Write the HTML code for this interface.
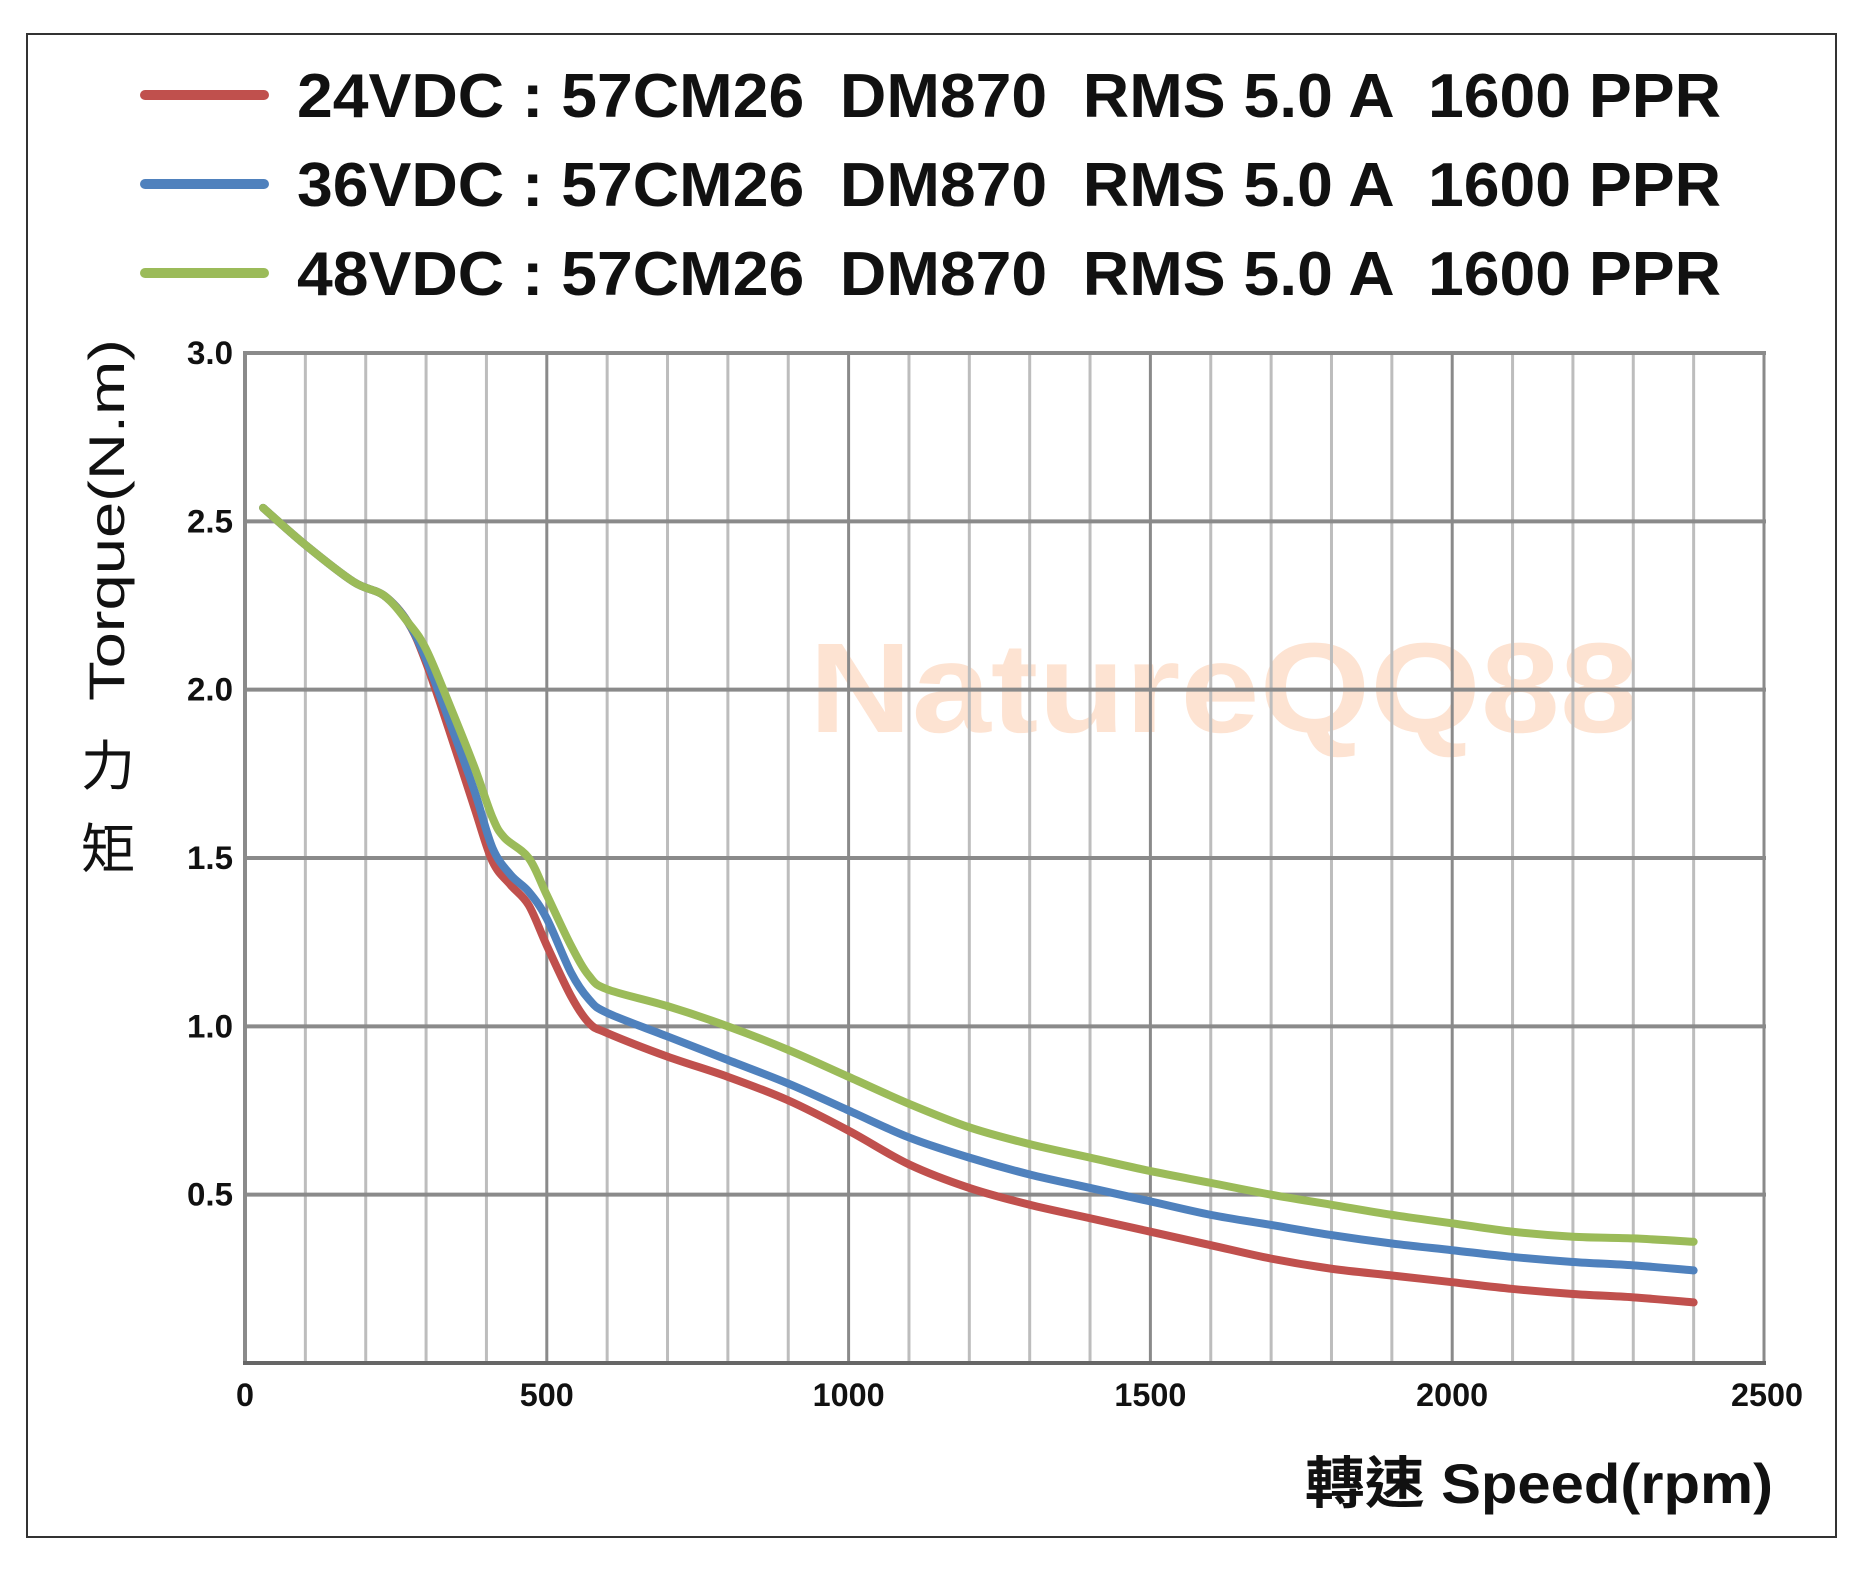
<!DOCTYPE html>
<html><head><meta charset="utf-8"><style>
html,body{margin:0;padding:0;background:#fff;}
svg{display:block;}
text{font-family:"Liberation Sans","Noto Sans CJK TC",sans-serif;}
</style></head><body>
<svg id="s" width="1860" height="1570" viewBox="0 0 1860 1570" xmlns="http://www.w3.org/2000/svg">
<rect x="27" y="34" width="1809" height="1503" fill="#fff" stroke="#333" stroke-width="2"/>
<text x="1224" y="732" font-size="128" font-weight="bold" fill="#fde3d2" text-anchor="middle" textLength="830" lengthAdjust="spacingAndGlyphs">NatureQQ88</text>
<g id="grid"></g>
<g id="curves" fill="none" stroke-width="8" stroke-linecap="round" stroke-linejoin="round"></g>
<g font-weight="bold" fill="#111">
<line x1="145" y1="95" x2="264" y2="95" stroke="#c0504d" stroke-width="10" stroke-linecap="round"/>
<line x1="145" y1="184" x2="264" y2="184" stroke="#4f81bd" stroke-width="10" stroke-linecap="round"/>
<line x1="145" y1="273" x2="264" y2="273" stroke="#9bbb59" stroke-width="10" stroke-linecap="round"/>
<text x="297" y="117" font-size="62" textLength="1424" lengthAdjust="spacingAndGlyphs" xml:space="preserve">24VDC : 57CM26  DM870  RMS 5.0 A  1600 PPR</text>
<text x="297" y="206" font-size="62" textLength="1424" lengthAdjust="spacingAndGlyphs" xml:space="preserve">36VDC : 57CM26  DM870  RMS 5.0 A  1600 PPR</text>
<text x="297" y="295" font-size="62" textLength="1424" lengthAdjust="spacingAndGlyphs" xml:space="preserve">48VDC : 57CM26  DM870  RMS 5.0 A  1600 PPR</text>
</g>
<g id="ticks" font-weight="bold" fill="#111" font-size="32"></g>
<text transform="translate(124,701) rotate(-90)" font-size="50" fill="#111" textLength="362" lengthAdjust="spacingAndGlyphs">Torque(N.m)</text>
<text x="108" y="785" font-size="54" fill="#111" text-anchor="middle">力</text>
<text x="108" y="868" font-size="54" fill="#111" text-anchor="middle">矩</text>
<text x="1305" y="1503" font-size="56" font-weight="bold" fill="#111" textLength="468" lengthAdjust="spacingAndGlyphs">轉速 Speed(rpm)</text>
</svg>
<script>
var NS="http://www.w3.org/2000/svg";
function X(r){return 245+r*0.6036;}
function Y(t){return 1363-t*336.67;}
var XR=1764;
function el(p,tag,a,txt){var e=document.createElementNS(NS,tag);for(var k in a)e.setAttribute(k,a[k]);if(txt!=null)e.textContent=txt;p.appendChild(e);return e;}
var g=document.getElementById('grid');
for(var r=100;r<=2400;r+=100){if(r%500)el(g,'line',{x1:X(r),y1:Y(3),x2:X(r),y2:Y(0),stroke:'#bdbdbd','stroke-width':3});}
for(var r=500;r<=2000;r+=500){el(g,'line',{x1:X(r),y1:Y(3),x2:X(r),y2:Y(0),stroke:'#8a8a8a','stroke-width':3});}
el(g,'line',{x1:XR,y1:Y(3),x2:XR,y2:Y(0),stroke:'#8a8a8a','stroke-width':3});
for(var t=0.5;t<=3.01;t+=0.5){el(g,'line',{x1:X(0)-2,y1:Y(t),x2:XR+2,y2:Y(t),stroke:'#8a8a8a','stroke-width':4});}
el(g,'line',{x1:X(0),y1:Y(3)-2,x2:X(0),y2:Y(0)+2,stroke:'#8a8a8a','stroke-width':4});
el(g,'line',{x1:X(0)-2,y1:Y(0),x2:XR+2,y2:Y(0),stroke:'#666','stroke-width':4});
var tk=document.getElementById('ticks');
['0.5','1.0','1.5','2.0','2.5','3.0'].forEach(function(s){el(tk,'text',{x:X(0)-12,y:Y(+s)+11,'text-anchor':'end',textLength:46,lengthAdjust:'spacingAndGlyphs'},s);});
[0,500,1000,1500,2000,2500].forEach(function(v){var s=String(v);var cx=v==2500?XR+3:X(v);el(tk,'text',{x:cx-s.length*9,y:1406,textLength:s.length*18,lengthAdjust:'spacingAndGlyphs'},s);});
var head=[[30,2.54],[100,2.43],[180,2.32],[230,2.28],[270,2.2]];
var red=head.concat([[300,2.08],[340,1.87],[380,1.65],[410,1.49],[440,1.42],[470,1.36],[500,1.24],[540,1.09],[570,1.01],[600,0.98],[700,0.91],[800,0.85],[900,0.78],[1000,0.69],[1100,0.59],[1200,0.52],[1300,0.47],[1400,0.43],[1500,0.39],[1600,0.35],[1700,0.31],[1800,0.28],[1900,0.26],[2000,0.24],[2100,0.22],[2200,0.205],[2300,0.195],[2400,0.18]]);
var blue=head.concat([[300,2.09],[340,1.9],[380,1.7],[410,1.53],[440,1.45],[470,1.40],[500,1.32],[540,1.16],[570,1.08],[600,1.04],[700,0.97],[800,0.90],[900,0.83],[1000,0.75],[1100,0.67],[1200,0.61],[1300,0.56],[1400,0.52],[1500,0.48],[1600,0.44],[1700,0.41],[1800,0.38],[1900,0.355],[2000,0.335],[2100,0.315],[2200,0.30],[2300,0.29],[2400,0.275]]);
var green=head.concat([[300,2.12],[340,1.95],[380,1.77],[410,1.62],[430,1.56],[470,1.5],[500,1.39],[540,1.24],[570,1.15],[600,1.11],[700,1.06],[800,1.0],[900,0.93],[1000,0.85],[1100,0.77],[1200,0.70],[1300,0.65],[1400,0.61],[1500,0.57],[1600,0.535],[1700,0.5],[1800,0.47],[1900,0.44],[2000,0.415],[2100,0.39],[2200,0.375],[2300,0.37],[2400,0.36]]);
function path(d){var p=d.map(function(q){return [X(q[0]),Y(q[1])];});var s='M'+p[0][0]+','+p[0][1];
for(var i=0;i<p.length-1;i++){var p0=p[i-1]||p[i],p1=p[i],p2=p[i+1],p3=p[i+2]||p2;
s+=' C'+(p1[0]+(p2[0]-p0[0])/6)+','+(p1[1]+(p2[1]-p0[1])/6)+' '+(p2[0]-(p3[0]-p1[0])/6)+','+(p2[1]-(p3[1]-p1[1])/6)+' '+p2[0]+','+p2[1];}return s;}
var c=document.getElementById('curves');
el(c,'path',{d:path(red),stroke:'#c0504d'});
el(c,'path',{d:path(blue),stroke:'#4f81bd'});
el(c,'path',{d:path(green),stroke:'#9bbb59'});
</script>
</body></html>
